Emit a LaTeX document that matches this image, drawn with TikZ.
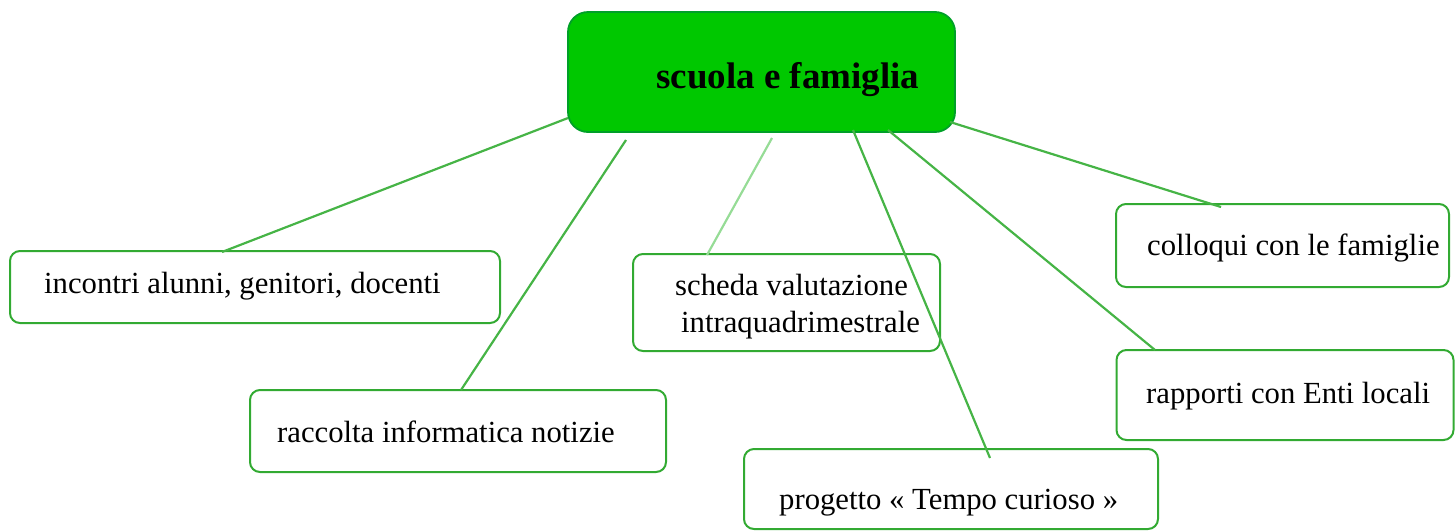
\documentclass[tikz,border=0pt]{standalone}
\usepackage{fontspec}
\setmainfont{Liberation Serif}
\definecolor{boxgreen}{RGB}{50,170,50}
\definecolor{linegreen}{RGB}{70,180,70}
\definecolor{lightline}{RGB}{150,220,150}
\definecolor{mainfill}{RGB}{0,200,0}
\definecolor{mainborder}{RGB}{0,160,40}
\tikzset{
  box/.style={draw=boxgreen, line width=2pt, rounded corners=10pt, inner sep=0pt},
  mainbox/.style={draw=mainborder, fill=mainfill, line width=1.8pt, rounded corners=20pt, inner sep=0pt},
  lbl/.style={anchor=base west, inner sep=0pt, font=\fontsize{30.7}{36}\selectfont},
  title/.style={anchor=base west, inner sep=0pt, font=\fontsize{37}{44}\selectfont\bfseries},
  conn/.style={draw=linegreen, line width=2.2pt},
}
\begin{document}
\begin{tikzpicture}[x=1pt,y=-1pt]
\useasboundingbox (0,0) rectangle (1455,531);
% boxes
\node[mainbox, minimum width=387pt, minimum height=120pt] (main) at (761.5,72) {};
\node[box, minimum width=490pt, minimum height=72pt] (A) at (255,287) {};
\node[box, minimum width=416pt, minimum height=82pt] (B) at (458,431) {};
\node[box, minimum width=307pt, minimum height=97pt] (C) at (786.5,302.5) {};
\node[box, minimum width=414pt, minimum height=80pt] (D) at (951,489) {};
\node[box, minimum width=333pt, minimum height=83pt] (E) at (1282.5,245.5) {};
\node[box, minimum width=337pt, minimum height=90pt] (F) at (1285,395) {};
% texts
\node[title] (tmain) at (656,88) {scuola e famiglia};
\node[lbl] (tA) at (44,293) {incontri alunni, genitori, docenti};
\node[lbl] (tB) at (277,442) {raccolta informatica notizie};
\node[lbl] (tC1) at (675,295) {scheda valutazione};
\node[lbl] (tC2) at (681,332) {intraquadrimestrale};
\node[lbl] (tD) at (779,509) {progetto « Tempo curioso »};
\node[lbl] (tE) at (1147,255) {colloqui con le famiglie};
\node[lbl] (tF) at (1146,403) {rapporti con Enti locali};
% connector end points
\coordinate (s1) at (568,118);
\coordinate (e1) at (222,252);
\coordinate (s2) at (626,140);
\coordinate (e2) at (461,390);
\coordinate (s3) at (772,138);
\coordinate (e3) at (707,255);
\coordinate (s4) at (853,130);
\coordinate (e4) at (990,458);
\coordinate (s5) at (888,130);
\coordinate (e5) at (1155,350);
\coordinate (s6) at (950,122);
\coordinate (e6) at (1221,207);
% connectors
\draw[conn] (s1) -- (e1);
\draw[conn] (s2) -- (e2);
\draw[conn, draw=lightline] (s3) -- (e3);
\draw[conn] (s4) -- (e4);
\draw[conn] (s5) -- (e5);
\draw[conn] (s6) -- (e6);
\end{tikzpicture}
\end{document}
